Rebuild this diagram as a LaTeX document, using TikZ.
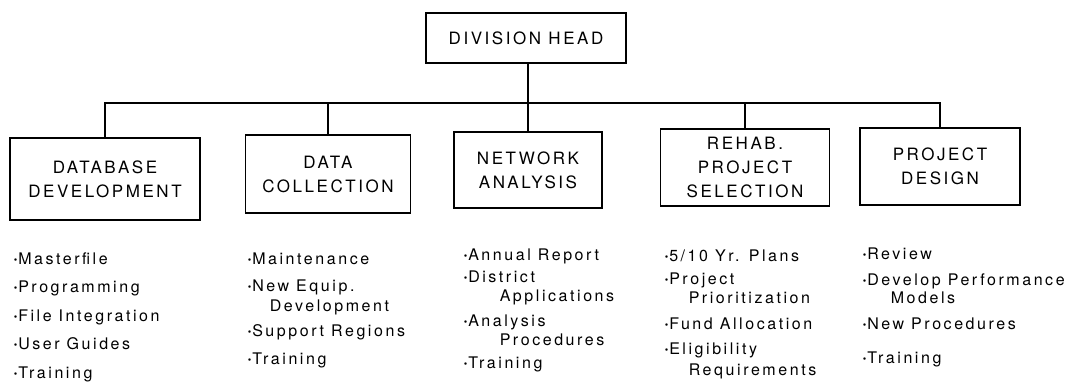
\documentclass[tikz,border=0pt]{standalone}
\usepackage{fontspec}
\setmainfont{TeX Gyre Heros}
\newfontfamily\boxfont[LetterSpace=15]{TeX Gyre Heros}
\newfontfamily\listfont[LetterSpace=16]{TeX Gyre Heros}
\newcommand{\bul}{\raisebox{1.2pt}{\fontsize{10}{10}\selectfont\textbullet}\hspace{1pt}}
\begin{document}
\begin{tikzpicture}[x=1pt,y=-1pt,line width=1.5pt,
    unitbox/.style={draw,rectangle,inner sep=0pt,align=center,
        font=\boxfont\fontsize{17}{24}\selectfont},
    items/.style={anchor=north west,inner sep=0pt,align=left,
        font=\listfont\fontsize{16}{19}\selectfont}]
    \useasboundingbox (0,0) rectangle (1083,389);
    %headnode
    \node[unitbox,minimum width=200pt,minimum height=50pt] (head) at (526,38) {DIVISION HEAD};
    %units
    \node[unitbox,minimum width=190pt,minimum height=82pt] (dbdev) at (105,179) {DATABASE\\DEVELOPMENT};
    \node[unitbox,minimum width=165pt,minimum height=78pt] (datacoll) at (328,174) {DATA\\COLLECTION};
    \node[unitbox,minimum width=148pt,minimum height=76pt] (netana) at (528,170) {NETWORK\\ANALYSIS};
    \node[unitbox,minimum width=169pt,minimum height=77pt] (rehab) at (745,167.5) {REHAB.\\PROJECT\\SELECTION};
    \node[unitbox,minimum width=160pt,minimum height=77pt] (projdes) at (940,166.5) {PROJECT\\DESIGN};
    %edges
    \coordinate (bus) at (0,103);
    \draw (head.south -| netana.north) -- (netana.north);
    \draw (dbdev.north) |- (projdes.north |- bus) -- (projdes.north);
    \draw (datacoll.north) -- (datacoll.north |- bus);
    \draw (rehab.north) -- (rehab.north |- bus);
    %task lists
    \node[items] (dblist) at (13,252) {\bul Masterfile\\[9.5pt]
        \bul Programming\\[9.5pt]
        \bul File Integration\\[9.5pt]
        \bul User Guides\\[9.5pt]
        \bul Training};
    \node[items] (dclist) at (247,252) {\bul Maintenance\\[8pt]
        \bul New Equip.\\[1pt]
        \hspace*{22pt}Development\\[6pt]
        \bul Support Regions\\[9pt]
        \bul Training};
    \node[items] (nalist) at (463,248) {\bul Annual Report\\[3pt]
        \bul District\\
        \hspace*{36pt}Applications\\[6pt]
        \bul Analysis\\
        \hspace*{36pt}Procedures\\[4pt]
        \bul Training};
    \node[items] (rplist) at (664,249) {\bul 5/10 Yr. Plans\\[4pt]
        \bul Project\\
        \hspace*{24pt}Prioritization\\[7pt]
        \bul Fund Allocation\\[6pt]
        \bul Eligibility\\[2pt]
        \hspace*{24pt}Requirements};
    \node[items] (pdlist) at (862,247) {\bul Review\\[7pt]
        \bul Develop Performance\\[-1pt]
        \hspace*{28pt}Models\\[7pt]
        \bul New Procedures\\[15pt]
        \bul Training};
\end{tikzpicture}
\end{document}
